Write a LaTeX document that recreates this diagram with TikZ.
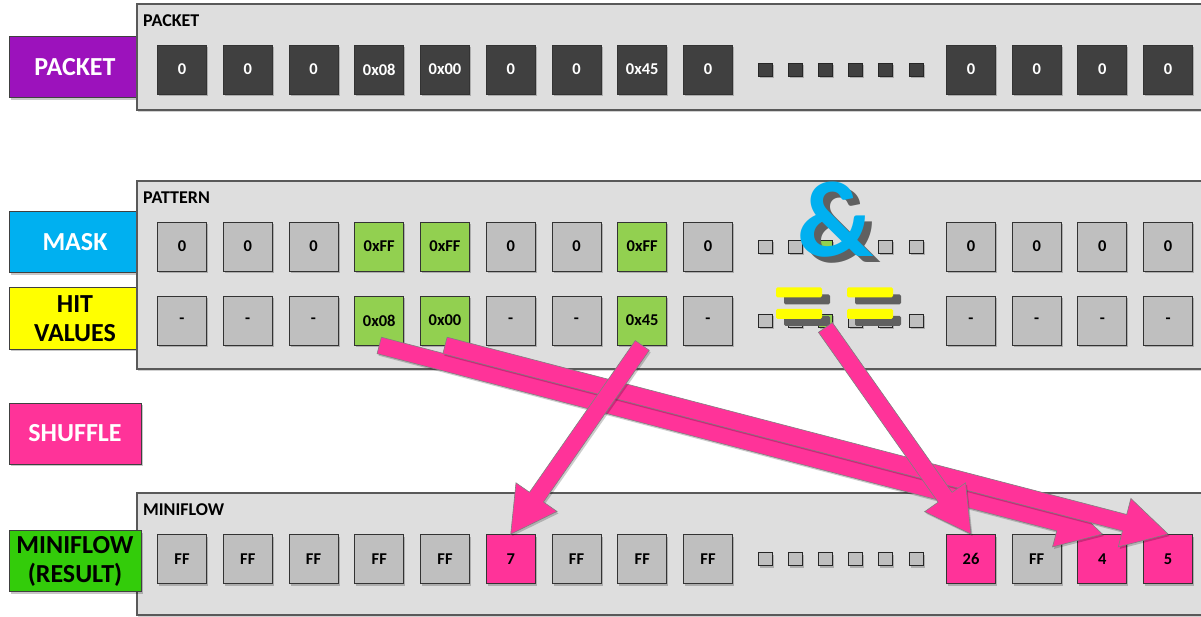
\documentclass[tikz,border=0pt]{standalone}
\usepackage{fontspec}
\setmainfont{Carlito}
\usetikzlibrary{calc,shadows}

\definecolor{panelfill}{HTML}{DEDEDE}
\definecolor{panelline}{HTML}{595959}
\definecolor{celldark}{HTML}{404040}
\definecolor{cellgray}{HTML}{BFBFBF}
\definecolor{cellgreen}{HTML}{92D050}
\definecolor{hotpink}{HTML}{FF3399}
\definecolor{labpurple}{HTML}{9C12BC}
\definecolor{labblue}{HTML}{00B0F0}
\definecolor{labyellow}{HTML}{FFFF00}
\definecolor{labgreen}{HTML}{33CC0A}
\definecolor{symshadow}{HTML}{606060}

% thick block arrow from #1 to #2 (shaft 17pt wide, head 50pt wide, 45pt long)
\newcommand\fatarrow[2]{%
  \coordinate (fa-h) at ($(#2)!45pt!(#1)$);
  \filldraw[blockarrow]
    ($(#1)!8.5pt!90:(#2)$) -- ($(fa-h)!8.5pt!-90:(#1)$) -- ($(fa-h)!25pt!-90:(#1)$)
    -- (#2) -- ($(fa-h)!25pt!90:(#1)$) -- ($(fa-h)!8.5pt!90:(#1)$)
    -- ($(#1)!8.5pt!-90:(#2)$) -- cycle;
}

\begin{document}
\begin{tikzpicture}[x=1pt,y=-1pt,
  softshadow/.style={drop shadow={shadow xshift=1.5pt,shadow yshift=-2pt,opacity=0.22,fill=black}},
  panel/.style={fill=panelfill,draw=panelline,line width=1.3pt,
    drop shadow={shadow xshift=1pt,shadow yshift=-2pt,opacity=0.18,fill=black}},
  ptitle/.style={anchor=west,inner sep=0pt,font=\bfseries\fontsize{18}{20}\selectfont},
  lab/.style={softshadow,draw=black!75,line width=1pt,minimum width=132pt,minimum height=61pt,
    inner sep=0pt,align=center,font=\bfseries\fontsize{26}{29}\selectfont},
  cell/.style={softshadow,draw=black!80,line width=0.9pt,minimum width=49pt,minimum height=49pt,
    inner sep=0pt,font=\bfseries\fontsize{16.5}{18}\selectfont},
  darkcell/.style={cell,fill=celldark,text=white},
  greycell/.style={cell,fill=cellgray,text=black},
  hitcell/.style={cell,fill=cellgreen,text=black},
  pinkcell/.style={cell,fill=hotpink,text=black},
  dot/.style={softshadow,draw=black!85,line width=0.9pt,minimum width=14pt,minimum height=13pt,inner sep=0pt},
  darkdot/.style={dot,fill=celldark},
  greydot/.style={dot,fill=cellgray},
  greendot/.style={dot,fill=cellgreen},
  blockarrow/.style={fill=hotpink,draw=black!50,line width=0.6pt,line join=miter,
    drop shadow={shadow xshift=1.5pt,shadow yshift=-2pt,opacity=0.2,fill=black}},
  ampsign/.style={anchor=base west,inner sep=0pt,font=\bfseries\fontsize{108}{108}\selectfont},
  eqbar/.style={fill=labyellow,rounded corners=1.5pt,minimum width=46pt,minimum height=10pt,inner sep=0pt,
    drop shadow={shadow xshift=8pt,shadow yshift=-7pt,fill=symshadow,opacity=1}}
]
\useasboundingbox (0,0) rectangle (1201,617);
\clip (0,0) rectangle (1201,617);
\fill[white] (0,0) rectangle (1201,617);

% row labels lying under the panels
\node[lab,fill=labpurple,text=white] (lpacket) at (75,67.5) {PACKET};
\node[lab,fill=labblue,text=white] (lmask) at (75,242.5) {MASK};
\node[lab,fill=labyellow,text=black] (lhit) at (75,318.5) {HIT\\VALUES};
\node[lab,fill=hotpink,text=white] (lshuffle) at (75,433.5) {SHUFFLE};

% panels
\path[panel] (137,4) rectangle (1220,110);
\path[panel] (137,181) rectangle (1220,369);
\path[panel] (137,493) rectangle (1220,615);
\node[ptitle] (tpacket) at (143,21) {PACKET};
\node[ptitle] (tpattern) at (143,198) {PATTERN};
\node[ptitle] (tminiflow) at (143,510) {MINIFLOW};

% packet row
\foreach \v [count=\i from 0] in {0,0,0,0x08,0x00,0,0,0x45,0}
  \node[darkcell] (p\i) at ({182+65.75*\i},69.5) {\v};
\foreach \i in {1,...,6}
  \node[darkdot] (pd\i) at ({765+30.2*(\i-1)},70) {};
\foreach \v [count=\i from 0] in {0,0,0,0}
  \node[darkcell] (pr\i) at ({971+65.7*\i},69.5) {\v};

% mask row
\foreach \v/\s [count=\i from 0] in {0/greycell,0/greycell,0/greycell,0xFF/hitcell,0xFF/hitcell,0/greycell,0/greycell,0xFF/hitcell,0/greycell}
  \node[\s] (k\i) at ({182+65.75*\i},246.5) {\v};
\foreach \s [count=\i from 1] in {greydot,greydot,greendot,greydot,greydot,greydot}
  \node[\s] (kd\i) at ({765+30.2*(\i-1)},246.5) {};
\foreach \v [count=\i from 0] in {0,0,0,0}
  \node[greycell] (kr\i) at ({971+65.7*\i},246.5) {\v};

% hit value row
\foreach \v/\s [count=\i from 0] in {-/greycell,-/greycell,-/greycell,0x08/hitcell,0x00/hitcell,-/greycell,-/greycell,0x45/hitcell,-/greycell}
  \node[\s] (h\i) at ({182+65.75*\i},320.5) {\v};
\foreach \s [count=\i from 1] in {greydot,greydot,greendot,greydot,greydot,greydot}
  \node[\s] (hd\i) at ({765+30.2*(\i-1)},320.5) {};
\foreach \v [count=\i from 0] in {-,-,-,-}
  \node[greycell] (hr\i) at ({971+65.7*\i},320.5) {\v};

% miniflow row
\foreach \v/\s [count=\i from 0] in {FF/greycell,FF/greycell,FF/greycell,FF/greycell,FF/greycell,7/pinkcell,FF/greycell,FF/greycell,FF/greycell}
  \node[\s] (m\i) at ({182+65.75*\i},559) {\v};
\foreach \i in {1,...,6}
  \node[greydot] (md\i) at ({765+30.2*(\i-1)},559) {};
\foreach \v/\s [count=\i from 0] in {26/pinkcell,FF/greycell,4/pinkcell,5/pinkcell}
  \node[\s] (mr\i) at ({971+65.7*\i},559) {\v};

\node[lab,fill=labgreen,text=black] (lminiflow) at (75,561) {MINIFLOW\\(RESULT)};

% AND sign with its grey offset shadow, set as one piece of text
\node[ampsign] (amp) at (797,257)
  {\rlap{\hspace{7pt}\raisebox{-6pt}{\color{symshadow}\&}}\color{labblue}\&};
% compare (==) bars
\node[eqbar] (eqa1) at (799,292.3) {};
\node[eqbar] (eqa2) at (799,313.8) {};
\node[eqbar] (eqb1) at (870,292.3) {};
\node[eqbar] (eqb2) at (870,313.8) {};

% shuffle arrows
\fatarrow{h3.south}{mr2.north}
\fatarrow{h4.south}{mr3.north}
\fatarrow{hd3.south}{mr0.north}
\fatarrow{h7.south}{m5.north}
\end{tikzpicture}
\end{document}
